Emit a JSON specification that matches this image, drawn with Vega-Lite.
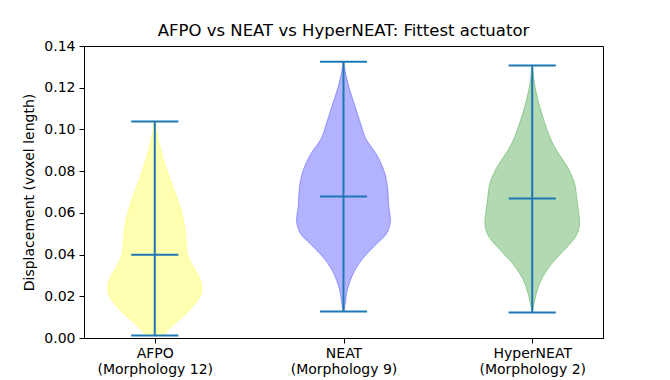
{
  "$schema": "https://vega.github.io/schema/vega-lite/v6.json",
  "width": 519,
  "height": 292,
  "autosize": {"type": "none"},
  "padding": {"left": 84, "top": 46, "right": 67, "bottom": 42},
  "title": {"text": "AFPO vs NEAT vs HyperNEAT: Fittest actuator", "font": "DejaVu Sans", "fontSize": 16.5, "fontWeight": "normal", "color": "black", "offset": 0},
  "config": {
    "font": "DejaVu Sans",
    "view": {"stroke": "black", "strokeWidth": 1},
    "axis": {"domainColor": "black", "tickColor": "black", "labelColor": "black", "titleColor": "black", "labelFont": "DejaVu Sans", "titleFont": "DejaVu Sans", "labelFontSize": 14, "titleFontSize": 14, "titleFontWeight": "normal", "tickSize": 5, "grid": false}
  },
  "datasets": {
    "violin": [
      {"g": "AFPO", "v": 0.0012, "lo": 0.956, "hi": 1.044},
      {"g": "AFPO", "v": 0.0055, "lo": 0.912, "hi": 1.088},
      {"g": "AFPO", "v": 0.0085, "lo": 0.875, "hi": 1.125},
      {"g": "AFPO", "v": 0.0119, "lo": 0.832, "hi": 1.168},
      {"g": "AFPO", "v": 0.0150, "lo": 0.800, "hi": 1.200},
      {"g": "AFPO", "v": 0.0183, "lo": 0.771, "hi": 1.229},
      {"g": "AFPO", "v": 0.0210, "lo": 0.755, "hi": 1.245},
      {"g": "AFPO", "v": 0.0239, "lo": 0.750, "hi": 1.250},
      {"g": "AFPO", "v": 0.0295, "lo": 0.767, "hi": 1.233},
      {"g": "AFPO", "v": 0.0343, "lo": 0.797, "hi": 1.203},
      {"g": "AFPO", "v": 0.0407, "lo": 0.829, "hi": 1.171},
      {"g": "AFPO", "v": 0.0487, "lo": 0.836, "hi": 1.164},
      {"g": "AFPO", "v": 0.0567, "lo": 0.848, "hi": 1.152},
      {"g": "AFPO", "v": 0.0647, "lo": 0.873, "hi": 1.127},
      {"g": "AFPO", "v": 0.0720, "lo": 0.902, "hi": 1.098},
      {"g": "AFPO", "v": 0.0774, "lo": 0.924, "hi": 1.076},
      {"g": "AFPO", "v": 0.0850, "lo": 0.952, "hi": 1.048},
      {"g": "AFPO", "v": 0.0934, "lo": 0.977, "hi": 1.023},
      {"g": "AFPO", "v": 0.0990, "lo": 0.990, "hi": 1.010},
      {"g": "AFPO", "v": 0.1038, "lo": 0.997, "hi": 1.003},
      {"g": "NEAT", "v": 0.0127, "lo": 1.998, "hi": 2.002},
      {"g": "NEAT", "v": 0.0151, "lo": 1.993, "hi": 2.007},
      {"g": "NEAT", "v": 0.0231, "lo": 1.979, "hi": 2.021},
      {"g": "NEAT", "v": 0.0311, "lo": 1.947, "hi": 2.053},
      {"g": "NEAT", "v": 0.0375, "lo": 1.903, "hi": 2.097},
      {"g": "NEAT", "v": 0.0439, "lo": 1.838, "hi": 2.162},
      {"g": "NEAT", "v": 0.0503, "lo": 1.770, "hi": 2.230},
      {"g": "NEAT", "v": 0.0567, "lo": 1.751, "hi": 2.249},
      {"g": "NEAT", "v": 0.0630, "lo": 1.760, "hi": 2.240},
      {"g": "NEAT", "v": 0.0710, "lo": 1.765, "hi": 2.235},
      {"g": "NEAT", "v": 0.0790, "lo": 1.781, "hi": 2.219},
      {"g": "NEAT", "v": 0.0886, "lo": 1.829, "hi": 2.171},
      {"g": "NEAT", "v": 0.0950, "lo": 1.878, "hi": 2.122},
      {"g": "NEAT", "v": 0.1030, "lo": 1.910, "hi": 2.090},
      {"g": "NEAT", "v": 0.1110, "lo": 1.938, "hi": 2.062},
      {"g": "NEAT", "v": 0.1190, "lo": 1.967, "hi": 2.033},
      {"g": "NEAT", "v": 0.1270, "lo": 1.989, "hi": 2.011},
      {"g": "NEAT", "v": 0.1324, "lo": 1.999, "hi": 2.001},
      {"g": "HyperNEAT", "v": 0.0122, "lo": 2.999, "hi": 3.001},
      {"g": "HyperNEAT", "v": 0.0199, "lo": 2.982, "hi": 3.018},
      {"g": "HyperNEAT", "v": 0.0279, "lo": 2.952, "hi": 3.048},
      {"g": "HyperNEAT", "v": 0.0343, "lo": 2.908, "hi": 3.092},
      {"g": "HyperNEAT", "v": 0.0423, "lo": 2.829, "hi": 3.171},
      {"g": "HyperNEAT", "v": 0.0487, "lo": 2.769, "hi": 3.231},
      {"g": "HyperNEAT", "v": 0.0551, "lo": 2.749, "hi": 3.251},
      {"g": "HyperNEAT", "v": 0.0663, "lo": 2.763, "hi": 3.237},
      {"g": "HyperNEAT", "v": 0.0743, "lo": 2.776, "hi": 3.224},
      {"g": "HyperNEAT", "v": 0.0822, "lo": 2.815, "hi": 3.185},
      {"g": "HyperNEAT", "v": 0.0902, "lo": 2.873, "hi": 3.127},
      {"g": "HyperNEAT", "v": 0.0960, "lo": 2.905, "hi": 3.095},
      {"g": "HyperNEAT", "v": 0.1030, "lo": 2.933, "hi": 3.067},
      {"g": "HyperNEAT", "v": 0.1110, "lo": 2.960, "hi": 3.040},
      {"g": "HyperNEAT", "v": 0.1190, "lo": 2.982, "hi": 3.018},
      {"g": "HyperNEAT", "v": 0.1306, "lo": 2.999, "hi": 3.001}
    ],
    "stats": [
      {"g": "AFPO", "pos": 1, "cl": 0.875, "cr": 1.125, "min": 0.0012, "max": 0.1038, "mid": 0.0399},
      {"g": "NEAT", "pos": 2, "cl": 1.875, "cr": 2.125, "min": 0.0127, "max": 0.1324, "mid": 0.0678},
      {"g": "HyperNEAT", "pos": 3, "cl": 2.875, "cr": 3.125, "min": 0.0122, "max": 0.1306, "mid": 0.0669}
    ]
  },
  "layer": [
    {
      "data": {"name": "violin"},
      "mark": {"type": "area", "orient": "horizontal", "fillOpacity": 0.3, "strokeOpacity": 0.3, "strokeWidth": 1, "interpolate": "monotone"},
      "encoding": {
        "y": {"field": "v", "type": "quantitative", "scale": {"domain": [0, 0.14], "nice": false, "zero": false}, "axis": {"values": [0, 0.02, 0.04, 0.06, 0.08, 0.1, 0.12, 0.14], "format": ".2f", "title": "Displacement (voxel length)", "labelPadding": 4, "titlePadding": 7}},
        "x": {"field": "lo", "type": "quantitative", "scale": {"domain": [0.625, 3.375], "nice": false, "zero": false}, "axis": {"values": [1, 2, 3], "title": null, "labelPadding": 3, "labelLineHeight": 16, "labelExpr": "datum.value == 1 ? ['AFPO', '(Morphology 12)'] : datum.value == 2 ? ['NEAT', '(Morphology 9)'] : ['HyperNEAT', '(Morphology 2)']"}},
        "x2": {"field": "hi"},
        "fill": {"field": "g", "type": "nominal", "scale": {"domain": ["AFPO", "NEAT", "HyperNEAT"], "range": ["#ffff00", "#0000ff", "#008000"]}, "legend": null},
        "stroke": {"field": "g", "type": "nominal", "scale": {"domain": ["AFPO", "NEAT", "HyperNEAT"], "range": ["#ffff00", "#0000ff", "#008000"]}, "legend": null},
        "detail": {"field": "g", "type": "nominal"}
      }
    },
    {
      "data": {"name": "stats"},
      "mark": {"type": "rule", "color": "#1f77b4", "strokeWidth": 2},
      "encoding": {
        "x": {"field": "pos", "type": "quantitative"},
        "y": {"field": "min", "type": "quantitative"},
        "y2": {"field": "max"}
      }
    },
    {
      "data": {"name": "stats"},
      "mark": {"type": "rule", "color": "#1f77b4", "strokeWidth": 2},
      "encoding": {
        "x": {"field": "cl", "type": "quantitative"},
        "x2": {"field": "cr"},
        "y": {"field": "min", "type": "quantitative"}
      }
    },
    {
      "data": {"name": "stats"},
      "mark": {"type": "rule", "color": "#1f77b4", "strokeWidth": 2},
      "encoding": {
        "x": {"field": "cl", "type": "quantitative"},
        "x2": {"field": "cr"},
        "y": {"field": "max", "type": "quantitative"}
      }
    },
    {
      "data": {"name": "stats"},
      "mark": {"type": "rule", "color": "#1f77b4", "strokeWidth": 2},
      "encoding": {
        "x": {"field": "cl", "type": "quantitative"},
        "x2": {"field": "cr"},
        "y": {"field": "mid", "type": "quantitative"}
      }
    }
  ]
}
